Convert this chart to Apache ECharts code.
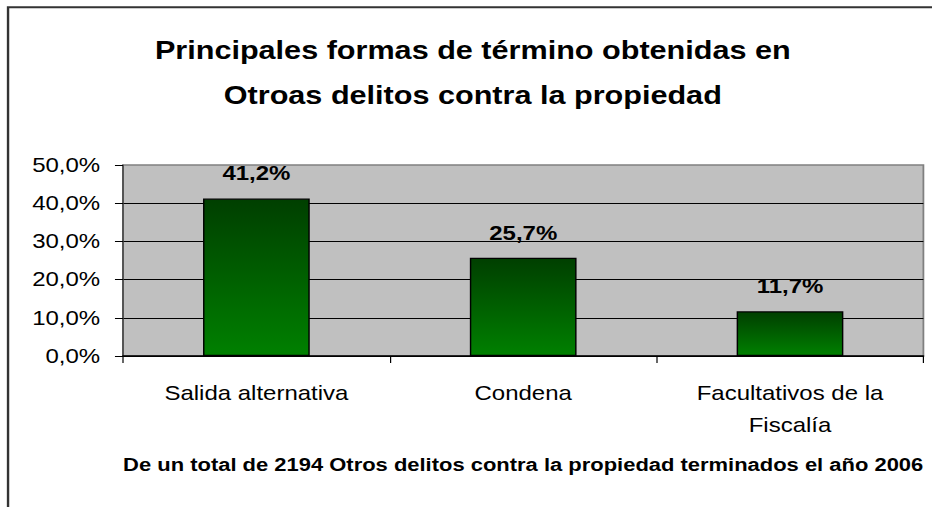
<!DOCTYPE html>
<html>
<head>
<meta charset="utf-8">
<script src="https://cdn.jsdelivr.net/npm/echarts@6/dist/echarts.min.js"></script>
<style>
  html, body { margin: 0; padding: 0; background: #fff; overflow: hidden; }
  /* the original picture is stretched sideways, so draw narrower and widen it */
  #chart {
    width: 776.67px;
    height: 507px;
    transform: scaleX(1.2);
    transform-origin: 0 0;
  }
</style>
</head>
<body>
<div id="chart"></div>
<script>
var categories = ['Salida alternativa', 'Condena', 'Facultativos de la\nFiscalía']
var values = [41.2, 25.7, 11.7]
var yTickLabels = ['0,0%', '10,0%', '20,0%', '30,0%', '40,0%', '50,0%']

var font = '"Liberation Sans", Arial, sans-serif'

var chart = echarts.init(document.getElementById('chart'), null, { renderer: 'svg' })

var option = {
    backgroundColor: '#fff',
    animation: false,
    graphic: [
        {
            type: 'rect',
            shape: { x: 6.7, y: 7.3, width: 900, height: 600 },
            style: { fill: 'none', stroke: '#333', lineWidth: 2 }
        },
        {
            type: 'text',
            x: 394,
            y: 28,
            style: {
                text: 'Principales formas de término obtenidas en\nOtroas delitos contra la propiedad',
                textAlign: 'center',
                fontFamily: font,
                fontWeight: 'bold',
                fontSize: 25.5,
                lineHeight: 45,
                fill: '#000'
            }
        },
        {
            type: 'text',
            x: 436,
            y: 456,
            style: {
                text: 'De un total de 2194 Otros delitos contra la propiedad terminados el año 2006',
                textAlign: 'center',
                fontFamily: font,
                fontWeight: 'bold',
                fontSize: 18.3,
                fill: '#000'
            }
        }
    ],
    grid: {
        left: 102.5,
        right: 7.5,
        top: 165,
        bottom: 151,
        show: true,
        backgroundColor: '#C0C0C0',
        borderColor: '#808080',
        borderWidth: 1.5
    },
    xAxis: {
        type: 'category',
        data: categories,
        axisLine: { lineStyle: { color: '#000', width: 1.5 } },
        axisTick: { show: true, length: 7, lineStyle: { color: '#000' } },
        axisLabel: {
            color: '#000',
            fontFamily: font,
            fontSize: 20,
            lineHeight: 32,
            margin: 21,
            interval: 0
        }
    },
    yAxis: {
        type: 'value',
        min: 0,
        max: 50,
        interval: 10,
        axisLine: { show: true, lineStyle: { color: '#404040', width: 1.2 } },
        axisTick: { show: true, length: 6.7, lineStyle: { color: '#000' } },
        splitLine: {
            show: true,
            showMaxLine: false,
            lineStyle: { color: '#000', width: 1 }
        },
        axisLabel: {
            color: '#000',
            fontFamily: font,
            fontSize: 20,
            margin: 19,
            formatter: function (v) { return yTickLabels[Math.round(v / 10)] }
        }
    },
    series: [{
        type: 'bar',
        data: values,
        barWidth: '40%',
        itemStyle: {
            color: new echarts.graphic.LinearGradient(0, 0, 0, 1, [
                { offset: 0, color: '#003F00' },
                { offset: 1, color: '#008000' }
            ]),
            borderColor: '#000',
            borderWidth: 1.2
        },
        label: {
            show: true,
            position: 'top',
            distance: 15,
            color: '#000',
            fontFamily: font,
            fontWeight: 'bold',
            fontSize: 20,
            formatter: function (p) { return p.value.toFixed(1).replace('.', ',') + '%' }
        }
    }]
}

chart.setOption(option)
</script>
</body>
</html>
